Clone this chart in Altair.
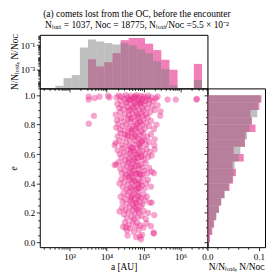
import altair as alt
import pandas as pd
import numpy as np

PINK = "#e7298a"
GREY = "#808080"
FONT = "Liberation Serif"

# ---------------- data ----------------
# top histogram: bin edges in log10(a / AU)
a_bin_lo = [2.62, 2.84, 3.06, 3.28, 3.50, 3.72, 3.94, 4.16, 4.38, 4.60,
            4.82, 5.04, 5.26, 5.48, 5.70, 5.92, 6.14, 6.36]
a_bin_hi = [2.84, 3.06, 3.28, 3.50, 3.72, 3.94, 4.16, 4.38, 4.60, 4.82,
            5.04, 5.26, 5.48, 5.70, 5.92, 6.14, 6.36, 6.58]
grey_a = [4.7e-5, 2.0e-4, 3.5e-4, 0.063, 0.28, 0.195, 0.145, 0.112, 0.145, 0.095,
          0.045, 0.021, 0.0047, 0.00105, 5.3e-5, 0, 0, 1.45e-4]
pink_a = [0, 0, 0, 0, 0.0069, 0.0018, 0.0040, 0.022, 0.25, 0.38,
          0.38, 0.129, 0.039, 0.0063, 0.00096, 0, 0, 0.0029]

# right histogram: bins in e
e_bin_lo = [0.00, 0.05, 0.10, 0.15, 0.20, 0.25, 0.30, 0.35, 0.40, 0.45,
            0.50, 0.55, 0.60, 0.65, 0.70, 0.75, 0.80, 0.85, 0.90, 0.95]
e_bin_hi = [0.05, 0.10, 0.15, 0.20, 0.25, 0.30, 0.35, 0.40, 0.45, 0.50,
            0.55, 0.60, 0.65, 0.70, 0.75, 0.80, 0.85, 0.90, 0.95, 1.00]
grey_e = [0.0033, 0.0073, 0.0118, 0.0175, 0.0216, 0.027, 0.0335, 0.041, 0.048, 0.051,
          0.053, 0.061, 0.064, 0.0726, 0.077, 0.082, 0.0857, 0.097, 0.098, 0.1033]
pink_e = [0.005, 0.0095, 0.013, 0.0165, 0.0225, 0.0265, 0.0328, 0.043, 0.050, 0.0556,
          0.049, 0.0706, 0.051, 0.073, 0.074, 0.0935, 0.0865, 0.0837, 0.101, 0.105]

# scatter points: (log10 a, e), grouped in bands of e
sc_top = [(4.27, 0.985), (4.33, 0.997), (4.38, 0.962), (4.41, 0.99), (4.47, 0.975), (4.52, 1.0),
          (4.55, 0.955), (4.58, 0.985), (4.63, 0.968), (4.66, 0.995), (4.70, 0.978), (4.74, 0.958),
          (4.77, 0.99), (4.81, 1.0), (4.84, 0.97), (4.87, 0.985), (4.91, 0.957), (4.93, 0.995),
          (4.97, 0.975), (5.01, 0.99), (5.04, 0.962), (5.08, 0.98), (5.12, 0.996), (5.16, 0.968),
          (5.21, 0.985), (5.27, 0.96), (5.33, 0.978), (5.38, 0.99)]
sc_out = [(3.52, 0.99), (3.52, 0.97), (3.68, 0.98), (3.81, 0.99), (4.04, 0.995), (4.08, 0.985),
          (5.65, 0.97), (5.87, 0.97), (6.43, 0.97), (6.44, 0.975), (3.52, 0.806), (3.66, 0.86)]
sc_b90 = [(4.29, 0.94), (4.34, 0.912), (4.37, 0.885), (4.42, 0.93), (4.46, 0.903), (4.50, 0.87),
          (4.53, 0.945), (4.57, 0.918), (4.60, 0.862), (4.63, 0.895), (4.67, 0.935), (4.70, 0.875),
          (4.73, 0.91), (4.76, 0.948), (4.79, 0.888), (4.82, 0.925), (4.85, 0.86), (4.88, 0.902),
          (4.91, 0.94), (4.94, 0.878), (4.97, 0.915), (5.00, 0.895), (5.03, 0.937), (5.07, 0.87),
          (5.10, 0.91), (5.14, 0.945), (5.18, 0.885), (5.23, 0.925), (5.30, 0.90), (5.45, 0.86),
          (5.46, 0.89), (5.38, 0.93), (4.25, 0.868)]
sc_b80 = [(4.28, 0.83), (4.26, 0.78), (4.32, 0.805), (4.36, 0.765), (4.39, 0.845), (4.43, 0.79),
          (4.47, 0.822), (4.50, 0.757), (4.54, 0.80), (4.57, 0.84), (4.60, 0.775), (4.64, 0.815),
          (4.67, 0.758), (4.70, 0.848), (4.73, 0.79), (4.76, 0.826), (4.79, 0.768), (4.82, 0.806),
          (4.85, 0.845), (4.88, 0.78), (4.91, 0.818), (4.94, 0.755), (4.97, 0.797), (5.00, 0.836),
          (5.03, 0.772), (5.07, 0.812), (5.11, 0.85), (5.15, 0.788), (5.20, 0.825), (5.28, 0.77),
          (5.35, 0.80)]
sc_b70 = [(4.25, 0.675), (4.30, 0.72), (4.34, 0.69), (4.38, 0.742), (4.42, 0.66), (4.46, 0.708),
          (4.50, 0.735), (4.53, 0.678), (4.57, 0.72), (4.60, 0.655), (4.63, 0.695), (4.67, 0.745),
          (4.70, 0.712), (4.73, 0.668), (4.76, 0.728), (4.79, 0.688), (4.83, 0.748), (4.86, 0.704),
          (4.89, 0.662), (4.92, 0.725), (4.95, 0.685), (4.99, 0.74), (5.02, 0.70), (5.06, 0.665),
          (5.10, 0.718), (5.15, 0.68), (5.20, 0.735), (5.29, 0.66), (5.30, 0.70), (4.22, 0.66)]
sc_b60 = [(4.30, 0.625), (4.36, 0.60), (4.40, 0.575), (4.43, 0.64), (4.47, 0.612), (4.50, 0.558),
          (4.54, 0.59), (4.57, 0.632), (4.61, 0.57), (4.64, 0.605), (4.67, 0.645), (4.70, 0.58),
          (4.73, 0.62), (4.76, 0.555), (4.79, 0.598), (4.82, 0.638), (4.85, 0.575), (4.88, 0.612),
          (4.91, 0.648), (4.94, 0.585), (4.97, 0.622), (5.00, 0.56), (5.04, 0.60), (5.08, 0.635),
          (5.12, 0.578), (5.17, 0.615), (5.22, 0.59), (5.30, 0.63)]
sc_b50 = [(4.22, 0.525), (4.33, 0.545), (4.37, 0.50), (4.41, 0.47), (4.45, 0.53), (4.49, 0.49),
          (4.52, 0.458), (4.55, 0.515), (4.59, 0.54), (4.62, 0.478), (4.65, 0.505), (4.68, 0.455),
          (4.71, 0.535), (4.74, 0.488), (4.77, 0.518), (4.80, 0.465), (4.83, 0.548), (4.86, 0.498),
          (4.89, 0.472), (4.92, 0.528), (4.95, 0.46), (4.98, 0.51), (5.02, 0.485), (5.06, 0.54),
          (5.10, 0.468), (5.15, 0.505), (5.22, 0.48), (5.28, 0.47), (4.26, 0.53)]
sc_b40 = [(4.35, 0.40), (4.40, 0.43), (4.44, 0.375), (4.48, 0.41), (4.52, 0.445), (4.55, 0.36),
          (4.58, 0.392), (4.62, 0.425), (4.65, 0.37), (4.68, 0.405), (4.71, 0.44), (4.74, 0.38),
          (4.77, 0.418), (4.80, 0.355), (4.83, 0.395), (4.86, 0.432), (4.89, 0.368), (4.92, 0.41),
          (4.95, 0.385), (4.99, 0.44), (5.03, 0.365), (5.07, 0.40), (5.12, 0.425), (5.20, 0.378)]
sc_b30 = [(4.38, 0.31), (4.43, 0.275), (4.46, 0.335), (4.50, 0.295), (4.54, 0.26), (4.57, 0.32),
          (4.61, 0.345), (4.64, 0.28), (4.67, 0.305), (4.71, 0.255), (4.74, 0.33), (4.77, 0.29),
          (4.80, 0.268), (4.84, 0.315), (4.87, 0.345), (4.90, 0.278), (4.93, 0.302), (4.97, 0.258),
          (5.00, 0.325), (5.04, 0.285), (5.09, 0.31), (5.17, 0.27), (5.22, 0.27)]
sc_b20 = [(4.35, 0.21), (4.42, 0.235), (4.47, 0.19), (4.51, 0.22), (4.55, 0.165), (4.59, 0.205),
          (4.63, 0.242), (4.67, 0.175), (4.70, 0.215), (4.74, 0.155), (4.77, 0.195), (4.81, 0.23),
          (4.84, 0.17), (4.88, 0.205), (4.92, 0.245), (4.95, 0.18), (5.00, 0.215), (5.06, 0.16),
          (5.12, 0.20), (5.29, 0.185)]
sc_b10 = [(4.45, 0.105), (4.50, 0.135), (4.55, 0.08), (4.60, 0.12), (4.64, 0.095), (4.70, 0.14),
          (4.74, 0.07), (4.78, 0.11), (4.83, 0.13), (4.87, 0.085), (4.92, 0.115), (4.96, 0.05),
          (5.00, 0.10), (5.08, 0.13), (5.20, 0.11), (5.27, 0.065), (5.28, 0.06), (4.57, 0.046),
          (4.80, 0.035), (4.93, 0.02), (4.90, 0.04), (4.52, 0.10)]
sc_core = [(4.62, 0.97), (4.72, 0.92), (4.82, 0.87), (4.90, 0.82), (4.68, 0.77), (4.78, 0.72),
           (4.88, 0.67), (4.66, 0.62), (4.76, 0.57), (4.86, 0.52), (4.64, 0.47), (4.74, 0.42),
           (4.84, 0.37), (4.70, 0.32), (4.80, 0.27), (4.95, 0.95), (4.60, 0.90), (4.98, 0.86),
           (4.58, 0.73), (4.96, 0.69), (4.62, 0.55), (4.94, 0.58), (4.60, 0.44), (4.90, 0.46),
           (4.70, 0.36), (4.86, 0.31), (4.75, 0.985), (4.85, 0.945), (4.65, 0.84), (4.80, 0.79),
           (4.72, 0.64), (4.84, 0.60), (4.69, 0.51), (4.79, 0.47), (4.88, 0.40), (4.66, 0.29),
           (4.76, 0.24), (4.85, 0.22)]

title_1 = "(a) comets lost from the OC, before the encounter"
title_2 = "N\u2097\u2092\u209b\u209c = 1037, N\u1d0f\u1d04 = 18775, N\u2097\u2092\u209b\u209c/N\u1d0f\u1d04 =5.5 \u00d7 10\u207b\u00b2"
hist_title = "N/N\u2097\u2092\u209b\u209c, N/N\u1d0f\u1d04"

# ---------------- frames ----------------
top_df_g = pd.DataFrame({"lo": a_bin_lo, "hi": a_bin_hi, "v": grey_a})
top_df_g = top_df_g[top_df_g.v > 0]
top_df_p = pd.DataFrame({"lo": a_bin_lo, "hi": a_bin_hi, "v": pink_a})
top_df_p = top_df_p[top_df_p.v > 0]
right_df_g = pd.DataFrame({"lo": e_bin_lo, "hi": e_bin_hi, "v": grey_e})
right_df_p = pd.DataFrame({"lo": e_bin_lo, "hi": e_bin_hi, "v": pink_e})
sc_all = sc_top + sc_out + sc_b90 + sc_b80 + sc_b70 + sc_b60 + sc_b50 + sc_b40 + sc_b30 + sc_b20 + sc_b10 + sc_core
sc_df = pd.DataFrame(sc_all, columns=["la", "e"])

# ---------------- scales / axes ----------------
W_MAIN, W_RIGHT = 169, 58
H_TOP, H_MAIN = 54, 160

XDOM = [2.196, 6.727]
EDOM = [-0.033, 1.046]
YTOP = [10 ** -4.54, 10 ** -0.164]

la_ticks = [float(np.log10(k * 10.0 ** d)) for d in range(2, 7) for k in range(1, 10)
            if XDOM[0] <= np.log10(k * 10.0 ** d) <= XDOM[1]]
e_ticks = [round(i * 0.05, 2) for i in range(21)]
ytop_ticks = [k * 10.0 ** d for d in range(-5, 0) for k in range(1, 10)
              if YTOP[0] <= k * 10.0 ** d <= YTOP[1]]
xr_ticks = [0, 0.02, 0.04, 0.06, 0.08, 0.1]

def tsize(test):
    return {"condition": {"test": test, "value": 3.5}, "value": 2}

common_axis = dict(domain=False, grid=False, tickColor="black", tickWidth=0.8,
                   labelFont=FONT, labelFontSize=9, labelColor="black",
                   titleFont=FONT, titleFontSize=9.5, titleColor="black",
                   titleFontWeight="normal", labelOverlap=False, labelFlush=False,
                   labelPadding=1.5)

la_major = "abs(datum.value - round(datum.value)) < 0.001"
la_label = ("abs(datum.value - round(datum.value)) < 0.001 ? "
            "'10' + ['\u2070','\u00b9','\u00b2','\u00b3','\u2074','\u2075','\u2076'][round(datum.value)] : ''")
e_major = "abs(datum.value*5 - round(datum.value*5)) < 0.001"
e_label = "abs(datum.value*5 - round(datum.value*5)) < 0.001 ? format(datum.value, '.1f') : ''"

x_top = alt.X("lo:Q", scale=alt.Scale(domain=XDOM, nice=False, zero=False),
              axis=alt.Axis(values=la_ticks, labels=False, title=None,
                            tickSize=tsize(la_major), **common_axis))
y_top = alt.Y("v:Q", scale=alt.Scale(type="log", domain=YTOP, nice=False),
              axis=alt.Axis(values=ytop_ticks, title=hist_title, titlePadding=1,
                            labelExpr="datum.value == 0.1 ? '10\u207b\u00b9' : (datum.value == 0.001 ? '10\u207b\u00b3' : '')",
                            tickSize=tsize("datum.value == 0.1 || datum.value == 0.001"),
                            **common_axis))

top = alt.layer(
    alt.Chart(top_df_p).mark_rect(color=PINK, opacity=0.6, strokeWidth=0).encode(
        x=x_top, x2="hi:Q", y=y_top, y2=alt.value(H_TOP)),
    alt.Chart(top_df_g).mark_rect(color=GREY, opacity=0.5, strokeWidth=0).encode(
        x=x_top, x2="hi:Q", y=y_top, y2=alt.value(H_TOP)),
).properties(width=W_MAIN, height=H_TOP)

blank = alt.Chart(pd.DataFrame({"z": [0]})).mark_point(opacity=0).encode(
    x=alt.X("z:Q", axis=None), y=alt.Y("z:Q", axis=None)
).properties(width=W_RIGHT, height=H_TOP, view=alt.ViewBackground(stroke="transparent"))

scatter = alt.Chart(sc_df).mark_circle(color=PINK, opacity=0.42, size=40).encode(
    x=alt.X("la:Q", scale=alt.Scale(domain=XDOM, nice=False, zero=False),
            axis=alt.Axis(values=la_ticks, labelExpr=la_label, title="a [AU]",
                          titlePadding=1, tickSize=tsize(la_major), **common_axis)),
    y=alt.Y("e:Q", scale=alt.Scale(domain=EDOM, nice=False, zero=False),
            axis=alt.Axis(values=e_ticks, labelExpr=e_label, title="e",
                          titleFontStyle="italic", titlePadding=5,
                          tickSize=tsize(e_major), **common_axis)),
).properties(width=W_MAIN, height=H_MAIN)

x_r = alt.X("v:Q", scale=alt.Scale(domain=[0, 0.112], nice=False, zero=False),
            axis=alt.Axis(values=xr_ticks, title=hist_title, titlePadding=1,
                          labelExpr="datum.value == 0 ? '0.0' : (datum.value == 0.1 ? '0.1' : '')",
                          tickSize=tsize("datum.value == 0 || datum.value == 0.1"),
                          **common_axis))
y_r = alt.Y("lo:Q", scale=alt.Scale(domain=EDOM, nice=False, zero=False),
            axis=alt.Axis(values=e_ticks, labels=False, title=None,
                          tickSize=tsize(e_major), **common_axis))

right = alt.layer(
    alt.Chart(right_df_p).mark_rect(color=PINK, opacity=0.6, strokeWidth=0).encode(
        x=x_r, x2=alt.datum(0), y=y_r, y2="hi:Q"),
    alt.Chart(right_df_g).mark_rect(color=GREY, opacity=0.5, strokeWidth=0).encode(
        x=x_r, x2=alt.datum(0), y=y_r, y2="hi:Q"),
).properties(width=W_RIGHT, height=H_MAIN)

chart = alt.concat(top, blank, scatter, right, columns=2, spacing=0, bounds="flush").properties(
    title=alt.TitleParams(text=title_1, subtitle=title_2, anchor="middle", frame="bounds",
                          font=FONT, fontSize=9.5, fontWeight="normal", color="black",
                          subtitleFont=FONT, subtitleFontSize=9.5, subtitleColor="black",
                          subtitlePadding=1, offset=2),
    padding={"left": 0, "top": 0, "right": 0, "bottom": 0},
).configure_view(stroke="black", strokeWidth=1)

chart.save("out.html", embed_options={"renderer": "svg", "actions": False})
